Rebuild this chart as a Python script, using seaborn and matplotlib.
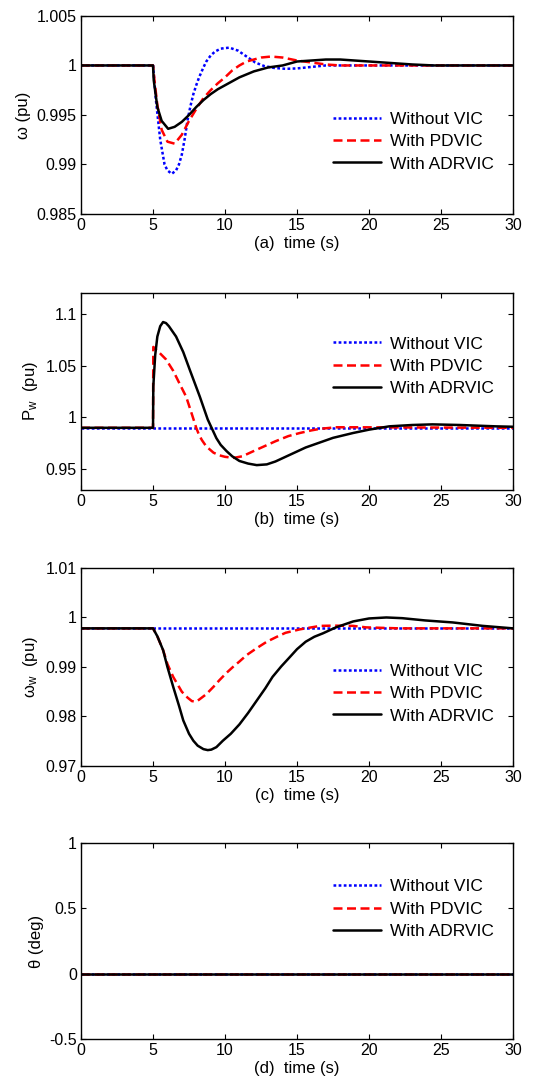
"""Frequency response of the wind-turbine VIC schemes (four stacked panels)."""
import matplotlib
matplotlib.use("Agg")
import matplotlib.pyplot as plt
import seaborn as sns

LABELS = ["Without VIC", "With PDVIC", "With ADRVIC"]
COLORS = ["#0000ff", "#ff0000", "#000000"]
STYLES = [(0, (1.1, 0.95)), (0, (3.6, 1.8)), "-"]

# (a) grid frequency omega
w_t_novic = [0, 5, 5.2, 5.5, 5.8, 6.0, 6.3, 6.6, 6.8, 7.0, 7.2, 7.4, 7.6, 7.8, 8.0, 8.2, 8.5,
             8.7, 9.0, 9.3, 9.7, 10.3, 10.9, 11.5, 12.1, 12.7, 13.4, 14.2, 15.0, 16.0, 17.0, 30]
w_novic = [1, 1, 0.9965, 0.9925, 0.9900, 0.9894, 0.98905, 0.9894, 0.9900, 0.9910, 0.9926,
           0.9945, 0.9959, 0.9971, 0.9980, 0.9988, 0.9998, 1.0004, 1.0010, 1.0014, 1.0017,
           1.0018, 1.0015, 1.0009, 1.0003, 0.99995, 0.99975, 0.99966, 0.9997, 0.99985, 1.0, 1.0]
w_t_pd = [0, 5, 5.1, 5.3, 5.6, 6.0, 6.5, 7.0, 7.5, 8.0, 8.5, 9.0, 9.5, 10.0, 10.5, 11.0,
          11.5, 12.0, 12.5, 13.2, 14.0, 15.0, 16.0, 17.0, 18.0, 19.5, 30]
w_pd = [1, 1, 0.9985, 0.9960, 0.9935, 0.9923, 0.9921, 0.9930, 0.9944, 0.9956, 0.9967,
        0.9975, 0.9982, 0.9988, 0.9995, 1.0, 1.0004, 1.0006, 1.0008, 1.0009, 1.0008,
        1.0005, 1.0003, 1.0001, 1.0, 1.0, 1.0]
w_t_adr = [0, 5, 5.05, 5.3, 5.6, 6.05, 6.5, 7.0, 7.5, 8.0, 8.5, 9.0, 9.5, 10, 11, 12, 13,
           14, 15, 16, 17, 18, 19, 20, 21, 22, 23, 24.5, 30]
w_adr = [1, 1, 0.9985, 0.9958, 0.9944, 0.9936, 0.9938, 0.9943, 0.9950, 0.9958, 0.9965,
         0.9971, 0.9976, 0.9980, 0.9988, 0.9994, 0.9998, 1.0, 1.0004, 1.0005, 1.0006,
         1.0006, 1.0005, 1.0004, 1.0003, 1.0002, 1.0001, 1.0, 1.0]

# (b) wind turbine power Pw
p_t_novic = [0, 30]
p_novic = [0.99, 0.99]
p_t_pd = [0, 5, 5.02, 5.4, 5.9, 6.4, 6.9, 7.3, 7.7, 8.0, 8.2, 8.4, 8.7, 9.2, 9.6, 10.0,
          10.6, 11.2, 11.9, 12.7, 13.5, 14.4, 15.2, 16.0, 16.6, 17.7, 19, 30]
p_pd = [0.99, 0.99, 1.068, 1.063, 1.056, 1.045, 1.031, 1.02, 1.003, 0.990, 0.983, 0.978,
        0.972, 0.966, 0.9635, 0.962, 0.961, 0.9625, 0.967, 0.972, 0.977, 0.982, 0.985,
        0.9875, 0.989, 0.9905, 0.9905, 0.99]
p_t_adr = [0, 5, 5.02, 5.15, 5.3, 5.5, 5.7, 5.9, 6.1, 6.6, 7.1, 7.55, 8.25, 8.8, 9.4, 9.7,
           10.1, 10.5, 11, 11.6, 12.2, 12.9, 13.5, 14.2, 15.6, 17.5, 18.9, 20, 21.4, 23,
           24.4, 26.3, 28.8, 30]
p_adr = [0.99, 0.99, 1.03, 1.06, 1.078, 1.088, 1.092, 1.091, 1.088, 1.078, 1.063, 1.046,
         1.02, 0.998, 0.980, 0.9735, 0.9676, 0.9625, 0.958, 0.9555, 0.954, 0.9547, 0.9575,
         0.962, 0.971, 0.9803, 0.985, 0.9882, 0.9914, 0.9927, 0.9933, 0.9927, 0.9914, 0.991]

# (c) rotor speed omega_w
r_t_novic = [0, 30]
r_novic = [0.9978, 0.9978]
r_t_pd = [0, 5, 5.3, 5.7, 6.0, 6.4, 7.0, 7.4, 7.7, 8.0, 8.2, 8.7, 9.2, 9.6, 10.1, 10.55,
          11.0, 11.5, 12.2, 12.9, 13.6, 14.2, 15.2, 16.0, 16.6, 17.5, 18.9, 19.8, 22.1, 30]
r_pd = [0.9978, 0.9978, 0.9962, 0.9934, 0.9906, 0.988, 0.985, 0.9838, 0.9831, 0.9830,
        0.9834, 0.9845, 0.986, 0.9873, 0.9888, 0.99, 0.9911, 0.9924, 0.9938, 0.9951,
        0.9961, 0.9969, 0.9976, 0.998, 0.9983, 0.99835, 0.9983, 0.998, 0.9978, 0.9978]
r_t_adr = [0, 5, 5.3, 5.7, 6.0, 6.4, 6.8, 7.1, 7.5, 7.8, 8.1, 8.5, 8.8, 9.05, 9.4, 9.85,
           10.4, 11, 11.6, 12.2, 12.8, 13.3, 13.9, 14.5, 15.0, 15.6, 16.2, 16.8, 17.7,
           18.9, 20, 21.2, 22.3, 23.9, 25.8, 27.9, 30]
r_adr = [0.9978, 0.9978, 0.9962, 0.9934, 0.990, 0.986, 0.9822, 0.9792, 0.9765, 0.9751,
         0.9741, 0.9734, 0.9732, 0.9733, 0.9738, 0.9751, 0.9765, 0.9784, 0.9807, 0.9832,
         0.9857, 0.988, 0.9901, 0.992, 0.9936, 0.9951, 0.9961, 0.9968, 0.998, 0.9992,
         0.9998, 1.0, 0.99986, 0.9994, 0.999, 0.9983, 0.9978]

# (d) pitch angle theta
th_t = [0, 30]
th_novic = [0, 0]
th_pd = [0, 0]
th_adr = [0, 0]

x_ticks = [0, 5, 10, 15, 20, 25, 30]

PANELS = [
    dict(series=[(w_t_novic, w_novic), (w_t_pd, w_pd), (w_t_adr, w_adr)],
         ylabel="ω (pu)", xlabel="(a)  time (s)", ylim=(0.985, 1.005),
         yticks=[0.985, 0.99, 0.995, 1, 1.005],
         yticklabels=["0.985", "0.99", "0.995", "1", "1.005"],
         rect=[0.1506, 0.803, 0.803, 0.1823], leg_y=0.364),
    dict(series=[(p_t_novic, p_novic), (p_t_pd, p_pd), (p_t_adr, p_adr)],
         ylabel=r"P$\mathregular{_w}$  (pu)", xlabel="(b)  time (s)", ylim=(0.93, 1.12),
         yticks=[0.95, 1, 1.05, 1.1],
         yticklabels=["0.95", "1", "1.05", "1.1"],
         rect=[0.1506, 0.5488, 0.803, 0.1814], leg_y=0.629),
    dict(series=[(r_t_novic, r_novic), (r_t_pd, r_pd), (r_t_adr, r_adr)],
         ylabel=r"ω$\mathregular{_w}$  (pu)", xlabel="(c)  time (s)", ylim=(0.97, 1.01),
         yticks=[0.97, 0.98, 0.99, 1, 1.01],
         yticklabels=["0.97", "0.98", "0.99", "1", "1.01"],
         rect=[0.1506, 0.2947, 0.803, 0.1823], leg_y=0.364),
    dict(series=[(th_t, th_novic), (th_t, th_pd), (th_t, th_adr)],
         ylabel="θ (deg)", xlabel="(d)  time (s)", ylim=(-0.5, 1),
         yticks=[-0.5, 0, 0.5, 1],
         yticklabels=["-0.5", "0", "0.5", "1"],
         rect=[0.1506, 0.0433, 0.803, 0.1805], leg_y=0.663),
]


def setup_style():
    sns.set_theme(style="ticks")
    plt.rcParams["font.family"] = ["Liberation Sans", "DejaVu Sans"]
    plt.rcParams["mathtext.fontset"] = "custom"
    plt.rcParams["mathtext.rm"] = "Liberation Sans"
    plt.rcParams["xtick.direction"] = "in"
    plt.rcParams["ytick.direction"] = "in"
    plt.rcParams["xtick.top"] = True
    plt.rcParams["ytick.right"] = True
    plt.rcParams["axes.edgecolor"] = "black"
    plt.rcParams["axes.linewidth"] = 1.0
    plt.rcParams["text.color"] = "black"
    plt.rcParams["axes.labelcolor"] = "black"


def main():
    setup_style()
    fig = plt.figure(figsize=(5.38, 10.86), dpi=100)
    for p in PANELS:
        ax = fig.add_axes(p["rect"])
        for (t, v), lab, col, ls in zip(p["series"], LABELS, COLORS, STYLES):
            sns.lineplot(x=t, y=v, ax=ax, color=col, lw=1.8, linestyle=ls,
                         label=lab, estimator=None, sort=False)
        ax.set_xlim(0, 30)
        ax.set_ylim(*p["ylim"])
        ax.set_xticks(x_ticks, [str(x) for x in x_ticks])
        ax.set_yticks(p["yticks"], p["yticklabels"])
        ax.tick_params(which="both", length=3.5, width=0.8, labelsize=11.5,
                       color="black", labelcolor="black", pad=3)
        for s in ax.spines.values():
            s.set_visible(True)
            s.set_color("black")
        ax.set_xlabel(p["xlabel"], fontsize=12, labelpad=2)
        ax.set_ylabel(p["ylabel"], fontsize=12, labelpad=4)
        ax.legend(loc="center left", bbox_to_anchor=(0.583, p["leg_y"]),
                  frameon=False, fontsize=12.5, handlelength=2.8, handletextpad=0.5,
                  borderpad=0, borderaxespad=0, labelspacing=0.4)
    fig.savefig("out.png", dpi=100)
    plt.close(fig)


if __name__ == "__main__":
    main()
